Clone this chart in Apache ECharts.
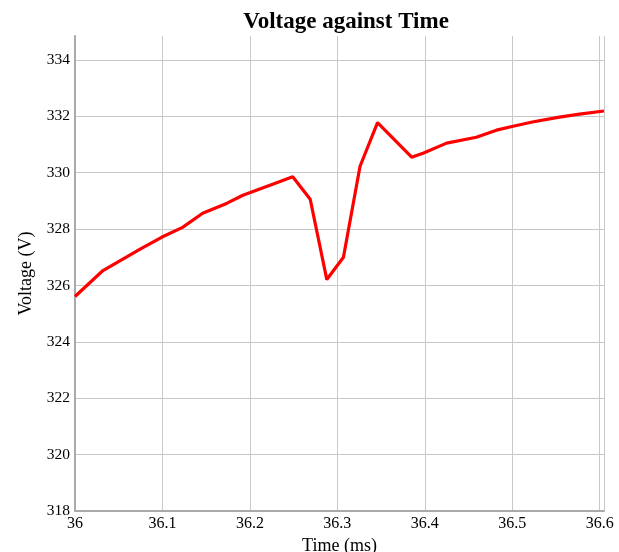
<!DOCTYPE html>
<html><head><meta charset="utf-8">
<script src="https://cdn.jsdelivr.net/npm/echarts@6/dist/echarts.min.js"></script>
<style>html,body{margin:0;padding:0;background:#fff}#c{width:619px;height:552px}</style>
</head><body><div id="c"></div>
<script>
const times = [36.000, 36.032, 36.074, 36.099, 36.123, 36.146, 36.174, 36.192, 36.226, 36.249,
               36.269, 36.288, 36.307, 36.326, 36.346, 36.385, 36.398, 36.425, 36.459, 36.482,
               36.501, 36.523, 36.554, 36.577, 36.605];
const volts = [325.61, 326.53, 327.28, 327.71, 328.06, 328.56, 328.92, 329.20, 329.59, 329.86,
               329.06, 326.21, 327.00, 330.23, 331.78, 330.55, 330.69, 331.05, 331.26, 331.51,
               331.65, 331.80, 331.97, 332.08, 332.19];
const xRange = [36, 36.605];
const yRange = [318, 334.85];

const font = 'Liberation Serif, Times New Roman, serif';
const chart = echarts.init(document.getElementById('c'));
chart.setOption({
  animation: false,
  backgroundColor: '#fff',
  title: {
    text: 'Voltage against Time', left: 341, top: 6, textAlign: 'center',
    textStyle: {fontFamily: font, fontSize: 23, fontWeight: 'bold', color: '#000'}
  },
  grid: {left: 75, right: 15, top: 36, bottom: 41, outerBoundsMode: 'none', containLabel: false},
  xAxis: {
    type: 'value', min: xRange[0], max: xRange[1], interval: 0.1,
    name: 'Time (ms)', nameLocation: 'middle', nameGap: 22,
    nameTextStyle: {fontFamily: font, fontSize: 18, color: '#000'},
    axisLine: {show: true, lineStyle: {color: '#aaa', width: 2}},
    axisTick: {show: false},
    axisLabel: {fontFamily: font, fontSize: 16, color: '#000', margin: 5, showMaxLabel: false,
      formatter: v => String(Math.round(v * 10) / 10)},
    splitLine: {show: true, lineStyle: {color: '#c8c8c8', width: 1}}
  },
  yAxis: {
    type: 'value', min: yRange[0], max: yRange[1], interval: 2,
    name: 'Voltage (V)', nameLocation: 'middle', nameGap: 40,
    nameTextStyle: {fontFamily: font, fontSize: 18, color: '#000'},
    axisLine: {show: true, lineStyle: {color: '#aaa', width: 2}},
    axisTick: {show: false},
    axisLabel: {fontFamily: font, fontSize: 15.5, color: '#000', margin: 5, showMaxLabel: false},
    splitLine: {show: true, showMaxLine: false, lineStyle: {color: '#c8c8c8', width: 1}}
  },
  series: [{
    type: 'line',
    data: times.map((t, i) => [t, volts[i]]),
    showSymbol: false,
    lineStyle: {color: '#ff0000', width: 3.2},
    itemStyle: {color: '#ff0000'}
  }]
});
</script>
</body></html>
